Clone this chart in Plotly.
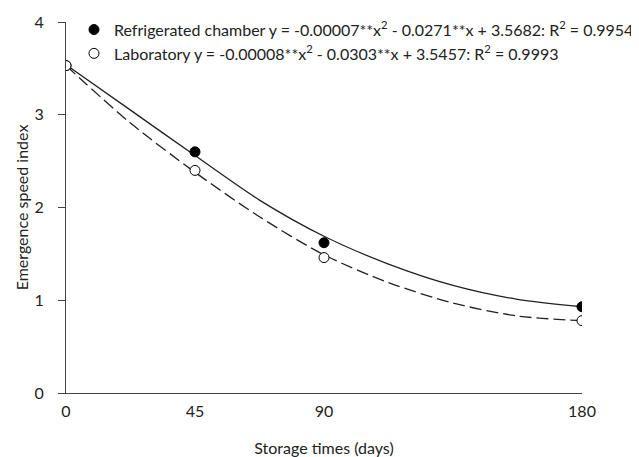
import plotly.graph_objects as go

days = [0, 45, 90, 180]
refrigerated = [3.53, 2.60, 1.62, 0.93]
laboratory = [3.53, 2.40, 1.46, 0.78]

curve_days = [0, 22.5, 45, 67.5, 90, 112.5, 135, 157.5, 180]
refrigerated_fit = [3.54, 3.05, 2.56, 2.08, 1.69, 1.39, 1.16, 1.01, 0.93]
laboratory_fit = [3.53, 2.91, 2.38, 1.90, 1.49, 1.19, 0.97, 0.83, 0.78]

x_ticks = [0, 45, 90, 180]
y_ticks = [0, 1, 2, 3, 4]

font_family = "Lato, Liberation Sans, Arial, sans-serif"
ink = "#222222"

fig = go.Figure()
fig.add_trace(go.Scatter(x=curve_days, y=refrigerated_fit, mode="lines",
                         line=dict(color=ink, width=1.3, shape="spline", smoothing=0.8),
                         showlegend=False, hoverinfo="skip"))
fig.add_trace(go.Scatter(x=curve_days, y=laboratory_fit, mode="lines",
                         line=dict(color=ink, width=1.3, shape="spline", smoothing=0.8,
                                   dash="12px,5px"),
                         showlegend=False, hoverinfo="skip"))
fig.add_trace(go.Scatter(x=days, y=refrigerated, mode="markers",
                         name="Refrigerated chamber y = -0.00007**x<sup>2</sup> - 0.0271**x + 3.5682: R<sup>2</sup> = 0.9954",
                         marker=dict(symbol="circle", size=10, color="black",
                                     line=dict(color="black", width=1))))
fig.add_trace(go.Scatter(x=days, y=laboratory, mode="markers",
                         name="Laboratory y = -0.00008**x<sup>2</sup> - 0.0303**x + 3.5457: R<sup>2</sup> = 0.9993",
                         marker=dict(symbol="circle", size=10, color="white",
                                     line=dict(color="black", width=1))))

fig.update_layout(
    width=631, height=449,
    margin=dict(l=58, r=57, t=14, b=64, autoexpand=False),
    paper_bgcolor="white", plot_bgcolor="white",
    font=dict(family=font_family, size=16, color=ink),
    legend=dict(x=0.0155, y=0.947, xanchor="left", yanchor="middle",
                bgcolor="rgba(0,0,0,0)", font=dict(size=16, color=ink),
                tracegroupgap=0, itemsizing="trace"),
    xaxis=dict(range=[0, 180], tickvals=x_ticks, ticks="", showgrid=False,
               zeroline=False, showline=True, linecolor="#444444", linewidth=1,
               ticklabelstandoff=4, automargin=False,
               title=dict(text="Storage times (days)", standoff=23,
                          font=dict(size=16))),
    yaxis=dict(range=[0, 4], tickvals=y_ticks, ticks="outside", ticklen=7,
               tickcolor="#444444", showgrid=False, zeroline=False,
               showline=True, linecolor="#444444", linewidth=1,
               ticklabelstandoff=11, automargin=False,
               title=dict(text="Emergence speed index", standoff=1,
                          font=dict(size=16))),
)

fig.write_html("out.html")
